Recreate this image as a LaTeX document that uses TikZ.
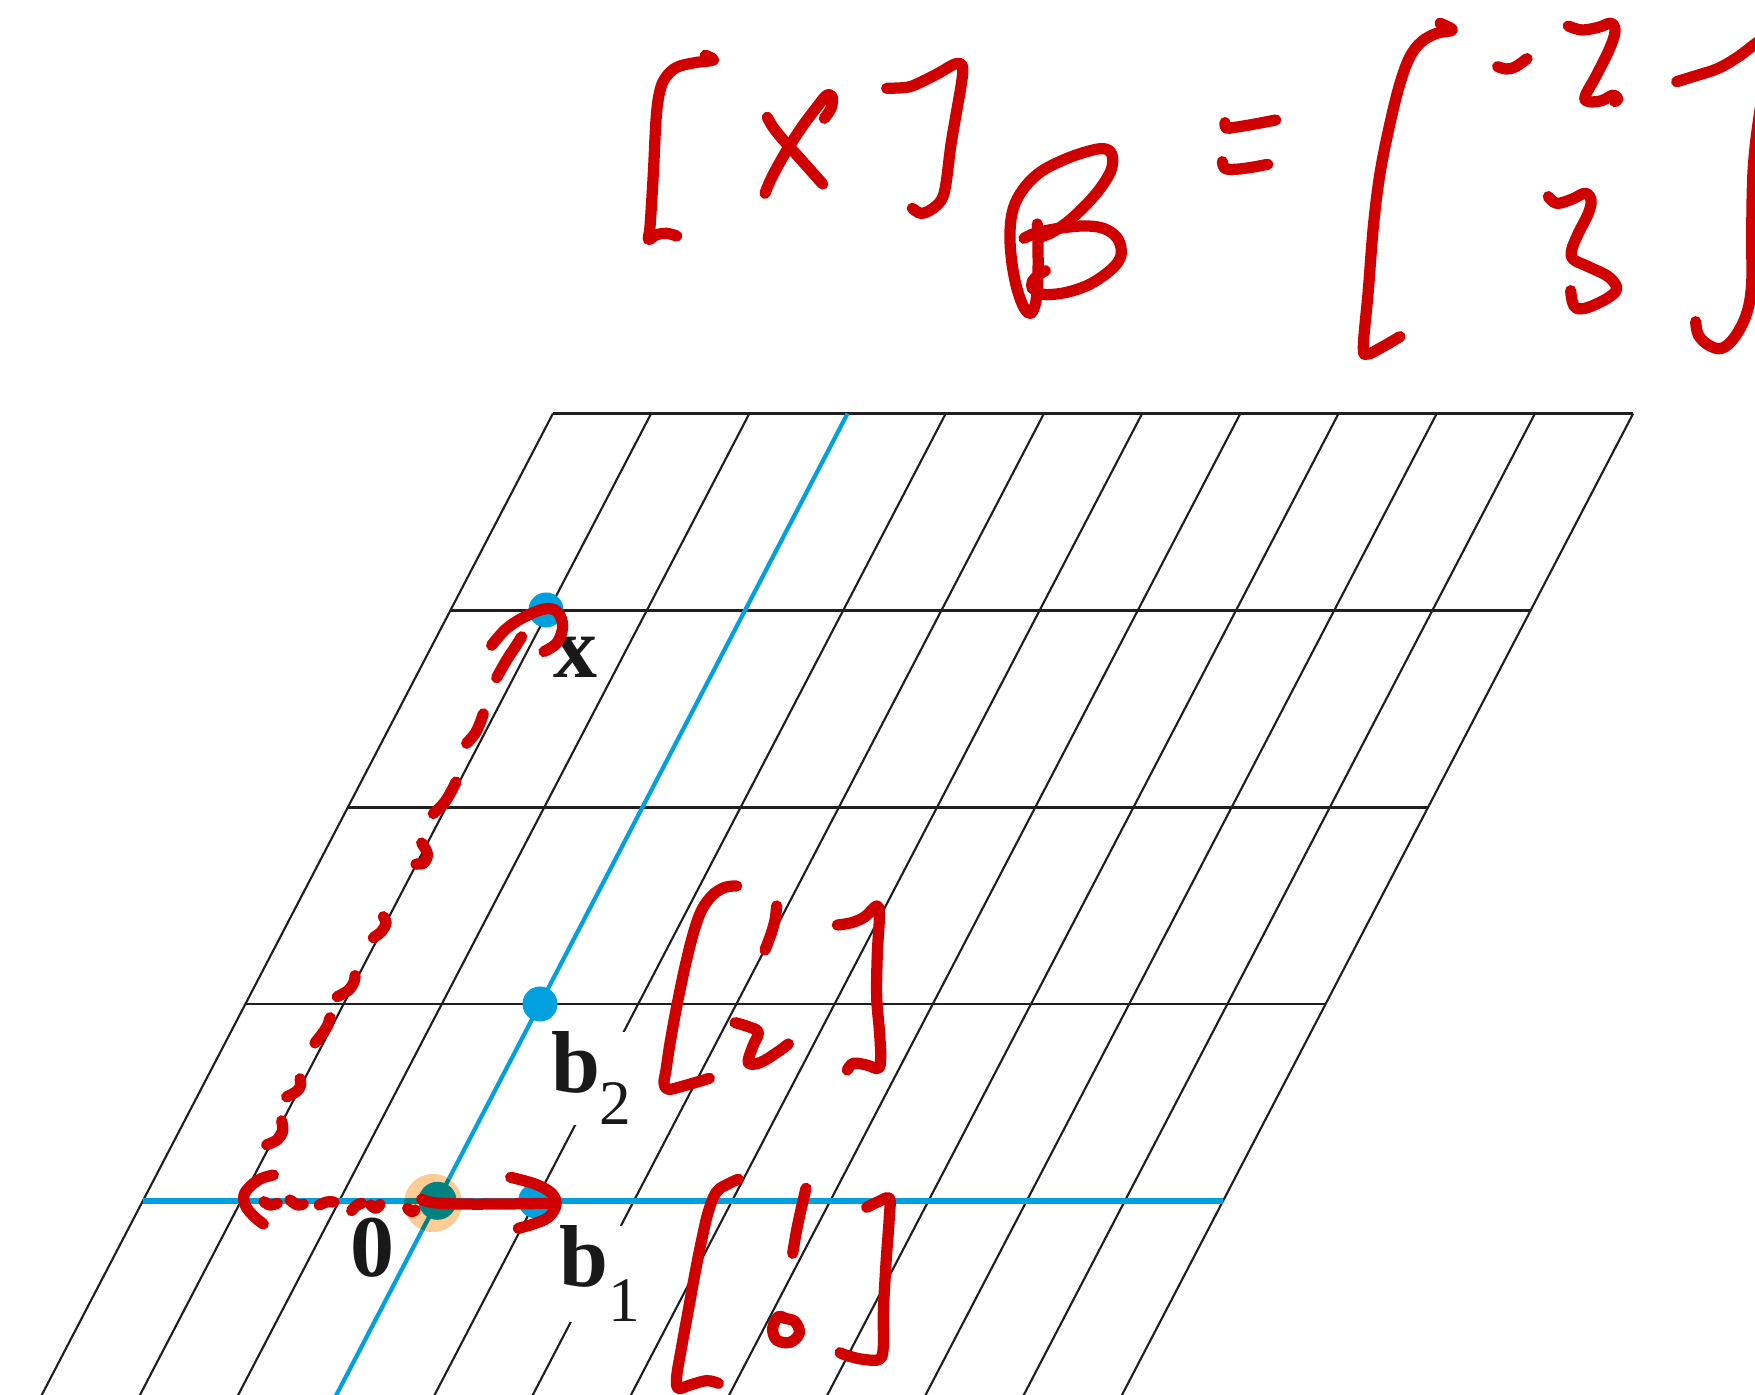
\documentclass[tikz,border=0pt]{standalone}
\usepackage{fontspec}
\setmainfont{Liberation Serif}
\definecolor{inkred}{RGB}{208,0,0}
\definecolor{cyanish}{RGB}{0,161,222}
\definecolor{peach}{RGB}{252,204,150}
\definecolor{tealdot}{RGB}{0,130,128}
\newcommand{\mysubfont}{\fontsize{18}{18}\selectfont\mdseries}
\begin{document}
\begin{tikzpicture}[x=0.01cm,y=-0.01cm,
  gridh/.style={draw=black!88, line width=0.8pt},
  grids/.style={draw=black!88, line width=0.6pt},
  blueh/.style={draw=cyanish, line width=1.6pt},
  blues/.style={draw=cyanish, line width=1.2pt},
  ink/.style={draw=inkred, line width=3.2pt, line cap=round, line join=round},
  lab/.style={font=\fontsize{25}{25}\selectfont\bfseries, inner sep=0pt, fill=white, text=black!90},
  ptdot/.style={circle, fill=cyanish, inner sep=0pt, minimum size=0.35cm},
]
\useasboundingbox (0,0) rectangle (1755,1395);
\fill[white] (0,0) rectangle (1755,1395);
\clip (0,0) rectangle (1755,1395);

% grid
\foreach \j in {1,...,4}
  \draw[gridh] ({142.9+102.5*\j},{1200.8-196.8*\j}) -- ({1223.1+102.5*\j},{1200.8-196.8*\j});
\foreach \i in {-3,-2,-1,1,2,...,8}
  \draw[grids] ({847.5+98.2*\i},413.6) -- ({335+98.2*\i},1397.6);
\draw[blues] (847.5,413.6) -- (335,1397.6);
\draw[blueh] (142.9,1200.8) -- (1223.1,1200.8);

% origin glow
\node[circle, fill=peach, inner sep=0pt, minimum size=0.58cm] (glow) at (433,1203) {};
\begin{scope}
  \clip (433,1203) circle (29);
  \draw[draw=tealdot, line width=1.6pt] (142.9,1200.8) -- (1223.1,1200.8);
  \draw[draw=tealdot, line width=1.2pt] (847.5,413.6) -- (335,1397.6);
\end{scope}
\node[circle, fill=tealdot, inner sep=0pt, minimum size=0.38cm] (origin) at (437.5,1200.8) {};

% points
\node[ptdot] (xpt) at (546,610) {};
\node[ptdot] (b2pt) at (540,1004) {};
\node[ptdot] (b1pt) at (535.7,1200.8) {};

% labels
\node[lab, anchor=base west] (xlab) at (553,678) {x};
\node[lab, anchor=base west] (olab) at (350,1276) {0};
\node[lab, anchor=base west] (b2lab) at (550.3,1092.7) {b\raisebox{-9.1pt}{\mysubfont 2}};
\node[lab, anchor=base west] (b1lab) at (558.6,1286.7) {b\raisebox{-10pt}{\mysubfont 1}};

% handwriting: [x]_B
\begin{scope}[shift={(630,40)}, scale=1/3]
  \draw[ink] plot[smooth, tension=0.6] coordinates {(226,46) (250,60) (195,68) (140,82) (105,115) (88,160) (78,240) (70,400) (60,560) (55,598) (80,584) (110,580) (140,588)};
  \draw[ink] plot[smooth, tension=0.6] coordinates {(412,232) (428,260) (458,298) (505,350) (578,432)};
  \draw[ink] plot[smooth, tension=0.6] coordinates {(405,460) (425,413) (465,340) (515,262) (560,202) (590,166) (607,172) (603,205) (583,235)};
  \draw[ink] plot[smooth, tension=0.6] coordinates {(770,145) (830,142) (865,130) (925,100) (975,72) (997,78) (995,125) (977,230) (962,320) (948,430) (935,478) (905,508) (873,520) (847,505)};
  \draw[ink] plot[smooth, tension=0.6] coordinates {(1222,552) (1224,620) (1224,700) (1220,770) (1210,810) (1197,820) (1178,795) (1158,735) (1144,655) (1140,575) (1150,505) (1180,447) (1230,397) (1300,360) (1370,335) (1420,326) (1445,342) (1445,385) (1420,432) (1380,482) (1320,540) (1270,575) (1235,590)};
  \draw[ink] plot[smooth, tension=0.6] coordinates {(1182,595) (1215,580) (1280,566) (1360,558) (1420,565) (1460,592) (1474,632) (1464,666) (1430,700) (1375,735) (1310,757) (1250,764) (1220,757)};
  \draw[ink] plot[smooth, tension=0.6] coordinates {(1246,692) (1225,705) (1207,725) (1207,745) (1220,750)};
\end{scope}

% handwriting: = [-2 3]
\begin{scope}[shift={(1235,0)}, scale=1/3]
  \draw[ink] plot[smooth, tension=0.6] coordinates {(-30,368) (-26,384) (0,382) (60,372) (122,360)};
  \draw[ink] plot[smooth, tension=0.6] coordinates {(-38,485) (-30,505) (0,508) (50,502) (98,493)};
  \draw[ink] plot[smooth, tension=0.6] coordinates {(615,70) (652,90) (605,100) (560,125) (525,170) (495,250) (465,370) (435,520) (415,680) (400,870) (385,1040) (398,1062) (440,1042) (495,1010)};
  \draw[ink] plot[smooth, tension=0.6] coordinates {(788,200) (815,207) (842,200) (876,176)};
  \draw[ink] plot[smooth, tension=0.6] coordinates {(1000,78) (1040,90) (1090,82) (1128,70) (1140,95) (1122,150) (1082,230) (1050,290) (1062,305) (1100,302) (1135,285) (1148,297) (1140,305)};
  \draw[ink] plot[smooth, tension=0.6] coordinates {(940,590) (965,610) (1010,598) (1050,580) (1068,600) (1060,640) (1030,700) (1010,750) (1015,778) (1060,800) (1120,830) (1145,865) (1120,893) (1060,922) (1025,925) (1012,905) (1007,872)};
  \draw[ink] plot[smooth, tension=0.6] coordinates {(1325,245) (1390,225) (1450,205) (1510,170) (1570,125) (1600,110) (1600,200) (1575,330) (1555,500) (1550,700) (1550,850) (1535,940) (1500,1010) (1460,1045) (1420,1035) (1390,1005) (1382,965)};
\end{scope}

% dashed arrow to x
\begin{scope}[shift={(220,580)}, xscale=1/3, yscale=1/2.376]
  \draw[ink] plot[smooth, tension=0.6] coordinates {(815,155) (860,115) (920,85) (980,68) (1015,78) (1028,112) (1010,150) (972,170)};
  \draw[ink] plot[smooth, tension=0.6] coordinates {(830,232) (860,190) (885,160) (905,135)};
  \draw[ink] plot[smooth, tension=0.6] coordinates {(740,388) (765,365) (780,340) (790,318)};
  \draw[ink] plot[smooth, tension=0.6] coordinates {(640,555) (672,530) (692,505) (708,480)};
  \draw[ink] plot[smooth, tension=0.6] coordinates {(605,625) (622,650) (612,672) (588,675)};
  \draw[ink] plot[smooth, tension=0.6] coordinates {(460,850) (485,835) (498,815) (490,800)};
  \draw[ink] plot[smooth, tension=0.6] coordinates {(352,990) (385,975) (402,955) (405,940)};
  \draw[ink] plot[smooth, tension=0.6] coordinates {(285,1100) (305,1080) (322,1060) (330,1040)};
  \draw[ink] plot[smooth, tension=0.6] coordinates {(200,1228) (230,1215) (242,1200) (240,1185)};
  \draw[ink] plot[smooth, tension=0.6] coordinates {(140,1342) (172,1330) (188,1310) (185,1285)};
\end{scope}

% bottom: dotted arrow and b1 arrow
\begin{scope}[shift={(220,1140)}, scale=1/3]
  \draw[ink] plot[smooth, tension=0.6] coordinates {(160,105) (125,115) (95,135) (72,165) (78,200) (105,232) (130,252)};
  \draw[ink] plot[smooth, tension=0.6] coordinates {(132,185) (150,195) (172,190)};
  \draw[ink] plot[smooth, tension=0.6] coordinates {(210,180) (232,195) (250,192)};
  \draw[ink] plot[smooth, tension=0.6] coordinates {(298,195) (320,186) (342,186)};
  \draw[ink] plot[smooth, tension=0.6] coordinates {(395,212) (410,196) (425,190)};
  \draw[ink] plot[smooth, tension=0.6] coordinates {(452,195) (468,205) (480,193)};
  \draw[ink] plot[smooth, tension=0.6] coordinates {(563,205) (575,215) (585,210)};
  \draw[ink] plot[smooth, tension=0.6] coordinates {(605,178) (640,188) (720,192) (850,192) (990,190)};
  \draw[ink] plot[smooth, tension=0.6] coordinates {(872,112) (945,132) (995,160) (1008,195) (985,232) (940,252) (895,265)};
\end{scope}

% [1 2]
\begin{scope}[shift={(530,870)}, scale=1/3]
  \draw[ink] plot[smooth, tension=0.6] coordinates {(620,48) (585,52) (548,75) (515,120) (490,190) (465,290) (440,410) (420,520) (408,600) (402,640) (415,658) (460,648) (538,625)};
  \draw[ink] plot[smooth, tension=0.6] coordinates {(740,108) (735,150) (722,195) (705,240)};
  \draw[ink] plot[smooth, tension=0.6] coordinates {(615,458) (655,470) (685,487) (668,530) (655,578) (690,578) (740,548) (775,522)};
  \draw[ink] plot[smooth, tension=0.6] coordinates {(922,165) (965,158) (1005,140) (1040,108) (1048,140) (1042,250) (1040,380) (1048,480) (1052,560) (1045,595) (1010,585) (970,580) (952,600)};
\end{scope}

% [1 0]
\begin{scope}[shift={(530,1130)}, scale=1/3]
  \draw[ink] plot[smooth, tension=0.6] coordinates {(625,148) (598,160) (560,185) (535,245) (515,330) (495,430) (475,540) (455,650) (440,740) (445,775) (480,765) (530,752) (565,760)};
  \draw[ink] plot[smooth, tension=0.6] coordinates {(828,175) (815,230) (800,300) (788,370)};
  \draw[ink] plot[smooth cycle, tension=0.6] coordinates {(745,560) (728,595) (740,630) (780,637) (808,610) (795,575) (765,565)};
  \draw[ink] plot[smooth, tension=0.6] coordinates {(1010,232) (1045,215) (1078,205) (1078,260) (1068,400) (1060,550) (1060,650) (1048,688) (1000,688) (955,678) (930,668)};
\end{scope}
\end{tikzpicture}
\end{document}
